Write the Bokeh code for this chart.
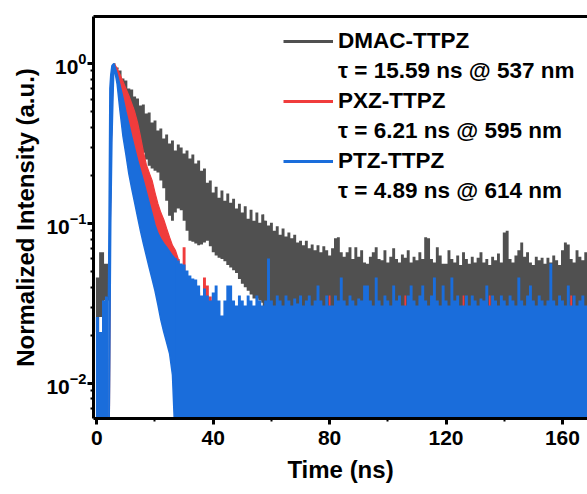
from bokeh.plotting import figure
from bokeh.models import Legend, LegendItem, LinearAxis, FixedTicker, SingleIntervalTicker
from bokeh.embed import file_html
from bokeh.resources import INLINE

GRAY = "#505050"
RED = "#f03c3c"
BLUE = "#1a6ddb"
FLOOR = 0.004  # zero counts: below the visible range

# ---------------- data (time in ns, normalized intensity) ----------------
# DMAC-TTPZ (gray)
gray_base_t = [-0.3, 0.8, 2.5, 4.3]
gray_base_hi = [0.046, 0.066, 0.056, 0.056]
gray_base_lo = [0.021, 0.026, 0.033, 0.033]
gray_rise_t = [4.2, 4.5, 4.8, 5.2, 5.6, 6.0]
gray_rise_hi = [0.004, 0.5, 0.85, 0.96, 0.99, 1.0]
gray_rise_lo = [0.004, 0.004, 0.10, 0.33, 0.65, 0.986]
gray_decay_t = list(range(6, 59))
gray_decay_hi = [1.0, 0.944, 0.904, 0.806, 0.783, 0.698, 0.688, 0.622, 0.604, 0.546,
                 0.554, 0.487, 0.494, 0.428, 0.440, 0.381, 0.392, 0.340, 0.360, 0.316,
                 0.330, 0.286, 0.312, 0.299, 0.274, 0.286, 0.255, 0.270, 0.237, 0.248,
                 0.214, 0.221, 0.180, 0.186, 0.156, 0.170, 0.145, 0.161, 0.139, 0.154,
                 0.135, 0.143, 0.124, 0.133, 0.117, 0.128, 0.107, 0.122, 0.104, 0.117,
                 0.101, 0.114, 0.104]
gray_decay_lo = [0.986, 0.917, 0.818, 0.718, 0.650, 0.587, 0.531, 0.453, 0.381, 0.307,
                 0.277, 0.251, 0.230, 0.221, 0.214, 0.208, 0.186, 0.166, 0.139, 0.112,
                 0.104, 0.117, 0.124, 0.121, 0.104, 0.090, 0.078, 0.077, 0.075, 0.073,
                 0.074, 0.076, 0.078, 0.072, 0.066, 0.063, 0.061, 0.060, 0.058, 0.055,
                 0.053, 0.051, 0.049, 0.045, 0.042, 0.040, 0.038, 0.036, 0.034, 0.034,
                 0.033, 0.032, 0.031]
gray_tail_t = list(range(57, 170))
gray_tail_hi = [0.114, 0.104,
                0.097, 0.101, 0.090, 0.096, 0.085, 0.093, 0.083, 0.088, 0.081, 0.085,
                0.076, 0.078, 0.073, 0.078, 0.070, 0.074, 0.068, 0.073, 0.066, 0.072,
                0.068, 0.063, 0.070, 0.081, 0.082, 0.066, 0.062, 0.066, 0.071, 0.060,
                0.071, 0.062, 0.068, 0.057, 0.056, 0.062, 0.066, 0.071, 0.060, 0.059,
                0.068, 0.057, 0.062, 0.070, 0.060, 0.057, 0.064, 0.061, 0.068, 0.057,
                0.062, 0.059, 0.066, 0.060, 0.082, 0.081, 0.060, 0.057, 0.071, 0.063,
                0.056, 0.056, 0.068, 0.060, 0.057, 0.063, 0.055, 0.066, 0.060, 0.056,
                0.062, 0.057, 0.061, 0.066, 0.057, 0.060, 0.055, 0.062, 0.059, 0.065,
                0.057, 0.088, 0.090, 0.060, 0.057, 0.063, 0.068, 0.076, 0.062, 0.066,
                0.057, 0.055, 0.062, 0.059, 0.061, 0.056, 0.061, 0.057, 0.063, 0.059,
                0.055, 0.068, 0.076, 0.074, 0.060, 0.057, 0.068, 0.062, 0.059, 0.066,
                0.060]

# PXZ-TTPZ (red)
red_main_t = [4.2, 4.5, 4.8, 5.2, 5.6, 6] + list(range(7, 29))
red_main_hi = [0.004, 0.10, 0.50, 0.85, 0.96, 1.0,
               0.93, 0.854, 0.772, 0.698, 0.631, 0.562, 0.501, 0.428, 0.350, 0.282,
               0.234, 0.208, 0.186, 0.156, 0.133, 0.117, 0.106, 0.093, 0.082, 0.073,
               0.068, 0.060]
red_main_lo = [0.004, 0.004, 0.08, 0.30, 0.60, 0.96,
               0.80, 0.66, 0.55, 0.45, 0.37, 0.31, 0.26, 0.22, 0.18, 0.15,
               0.13, 0.11, 0.095, 0.082, 0.07, 0.06, 0.05, 0.045, 0.04, 0.035,
               0.03, 0.025]
red_tail_t = list(range(27, 42))
red_tail_hi = [0.062, 0.060, 0.052, 0.071, 0.047, 0.040, 0.038, 0.035, 0.037, 0.033,
               0.046, 0.041, 0.035, 0.033, 0.031]
red_spike_t = [80, 106, 126, 135, 163]
red_spike_hi = [0.0355, 0.0355, 0.0355, 0.0355, 0.0355]

# PTZ-TTPZ (blue)
blue_base_t = [-0.3, 0.8, 1.8, 2.8, 4.1]
blue_base_hi = [0.026, 0.021, 0.033, 0.035, 0.035]
blue_main_t = [4.0, 4.2, 4.5, 4.8, 5.2, 5.6, 5.9] + list(range(7, 28)) + [27.6]
blue_main_hi = [0.035, 0.10, 0.70, 0.85, 0.97, 0.99, 1.0,
                0.86, 0.73, 0.61, 0.50, 0.42, 0.35, 0.295, 0.25, 0.215, 0.185,
                0.158, 0.135, 0.115, 0.098, 0.087, 0.080, 0.075, 0.071, 0.067, 0.063,
                0.060, 0.060]
blue_main_lo = [0.004, 0.004, 0.02, 0.10, 0.33, 0.65, 0.96,
                0.74, 0.50, 0.35, 0.27, 0.205, 0.165, 0.135, 0.11, 0.09, 0.075,
                0.063, 0.053, 0.045, 0.038, 0.031, 0.025, 0.021, 0.018, 0.0154, 0.0113,
                0.004, 0.004]
blue_tail_t = list(range(27, 170))
blue_tail_hi = [0.0604,
                0.0587, 0.0562, 0.0554, 0.0508, 0.0473, 0.0453, 0.0447, 0.0410, 0.0355, 0.0392,
                0.0355, 0.0330, 0.0370, 0.0410, 0.0330, 0.0266, 0.0330, 0.0410, 0.0410, 0.0330,
                0.0307, 0.0355, 0.0330, 0.0307, 0.0355, 0.0330, 0.0307, 0.0355, 0.0330, 0.0307,
                0.0330, 0.0604, 0.0330, 0.0307, 0.0355, 0.0330, 0.0307, 0.0355, 0.0330, 0.0307,
                0.0340, 0.0316, 0.0355, 0.0307, 0.0330, 0.0355, 0.0307, 0.0330, 0.0410, 0.0330,
                0.0307, 0.0355, 0.0307, 0.0307, 0.0355, 0.0330, 0.0460, 0.0330, 0.0307, 0.0355,
                0.0330, 0.0307, 0.0340, 0.0330, 0.0410, 0.0410, 0.0330, 0.0307, 0.0460, 0.0330,
                0.0307, 0.0355, 0.0330, 0.0307, 0.0410, 0.0330, 0.0355, 0.0307, 0.0307, 0.0355,
                0.0410, 0.0330, 0.0307, 0.0355, 0.0410, 0.0330, 0.0307, 0.0355, 0.0460, 0.0330,
                0.0307, 0.0410, 0.0330, 0.0307, 0.0460, 0.0330, 0.0355, 0.0307, 0.0307, 0.0355,
                0.0307, 0.0355, 0.0330, 0.0307, 0.0340, 0.0330, 0.0410, 0.0307, 0.0355, 0.0330,
                0.0307, 0.0355, 0.0330, 0.0307, 0.0355, 0.0330, 0.0307, 0.0460, 0.0330, 0.0307,
                0.0355, 0.0410, 0.0330, 0.0307, 0.0355, 0.0330, 0.0307, 0.0330, 0.0562, 0.0330,
                0.0307, 0.0355, 0.0330, 0.0307, 0.0410, 0.0307, 0.0355, 0.0307, 0.0330, 0.0355,
                0.0307, 0.0330]

legend_labels = ["DMAC-TTPZ", "τ = 15.59 ns @ 537 nm",
                 "PXZ-TTPZ", "τ = 6.21 ns @ 595 nm",
                 "PTZ-TTPZ", "τ = 4.89 ns @ 614 nm"]

# ---------------- figure ----------------
p = figure(width=587, height=494, x_range=(-1.13, 168.6), y_range=(0.00604, 1.968),
           y_axis_type="log", output_backend="svg", toolbar_location=None,
           min_border_left=93, min_border_right=0, min_border_top=16, min_border_bottom=76,
           background_fill_color="white", border_fill_color="white")
p.outline_line_color = None
p.xgrid.visible = False
p.ygrid.visible = False

FONT = "Liberation Sans"

# gray
p.varea_step(x=gray_base_t, y1=gray_base_lo, y2=gray_base_hi, step_mode="after", fill_color=GRAY)
p.varea(x=gray_rise_t, y1=gray_rise_lo, y2=gray_rise_hi, fill_color=GRAY)
p.varea_step(x=gray_decay_t, y1=gray_decay_lo, y2=gray_decay_hi, step_mode="center", fill_color=GRAY)
p.varea_step(x=gray_tail_t, y1=FLOOR, y2=gray_tail_hi, step_mode="center", fill_color=GRAY)

# red
p.varea(x=red_main_t, y1=red_main_lo, y2=red_main_hi, fill_color=RED)
p.line(x=red_main_t, y=red_main_hi, line_color=RED, line_width=1.2)
p.varea_step(x=red_tail_t, y1=FLOOR, y2=red_tail_hi, step_mode="center", fill_color=RED)
p.vbar(x=red_spike_t, top=red_spike_hi, bottom=FLOOR, width=0.6, fill_color=RED, line_color=None)

# blue
p.varea_step(x=blue_base_t, y1=FLOOR, y2=blue_base_hi, step_mode="after", fill_color=BLUE)
p.varea(x=blue_main_t, y1=blue_main_lo, y2=blue_main_hi, fill_color=BLUE)
p.line(x=blue_main_t, y=blue_main_hi, line_color=BLUE, line_width=1.5)
p.line(x=blue_main_t, y=blue_main_lo, line_color=BLUE, line_width=1.5)
p.varea_step(x=blue_tail_t, y1=FLOOR, y2=blue_tail_hi, step_mode="center", fill_color=BLUE)

# axes
for ax in (p.xaxis[0], p.yaxis[0]):
    ax.axis_line_width = 3
    ax.axis_line_color = "black"
    ax.major_tick_line_width = 3
    ax.major_tick_out = 6
    ax.major_tick_in = 0
    ax.minor_tick_line_width = 2
    ax.minor_tick_out = 3
    ax.minor_tick_in = 0
    ax.major_label_text_font = FONT
    ax.major_label_text_font_style = "bold"
    ax.major_label_text_font_size = "21px"
    ax.major_label_text_color = "black"
    ax.axis_label_text_font = FONT
    ax.axis_label_text_font_style = "bold"
    ax.axis_label_text_font_size = "24px"
    ax.axis_label_text_color = "black"

p.xaxis.ticker = SingleIntervalTicker(interval=40, num_minor_ticks=2)
p.xaxis.axis_label = "Time (ns)"
p.xaxis.major_label_standoff = 6
p.xaxis.axis_label_standoff = 8
p.yaxis.axis_label = "Normalized Intensity (a.u.)"
p.yaxis.major_label_standoff = 1
p.yaxis.axis_label_standoff = 4

top = LinearAxis(ticker=FixedTicker(ticks=[]), axis_line_width=3, axis_line_color="black",
                 major_tick_out=0, minor_tick_out=0, major_label_text_font_size="0px")
p.add_layout(top, "above")

# legend (sample renderers are hidden; only their legend glyphs are drawn)
leg_gray = p.line(x=gray_decay_t, y=gray_decay_hi, line_color=GRAY, line_width=3, visible=False)
leg_red = p.line(x=red_main_t, y=red_main_hi, line_color=RED, line_width=3, visible=False)
leg_blue = p.line(x=blue_main_t, y=blue_main_hi, line_color=BLUE, line_width=3, visible=False)
leg_none = p.line(x=blue_main_t, y=blue_main_hi, line_alpha=0, visible=False)
items = [LegendItem(label=legend_labels[0], renderers=[leg_gray]),
         LegendItem(label=legend_labels[1], renderers=[leg_none]),
         LegendItem(label=legend_labels[2], renderers=[leg_red]),
         LegendItem(label=legend_labels[3], renderers=[leg_none]),
         LegendItem(label=legend_labels[4], renderers=[leg_blue]),
         LegendItem(label=legend_labels[5], renderers=[leg_none])]
legend = Legend(items=items, location=(190, 212), glyph_width=50, glyph_height=30,
                label_height=30, spacing=0, padding=0, margin=0, label_standoff=5,
                border_line_color=None, background_fill_alpha=0,
                label_text_font=FONT, label_text_font_style="bold",
                label_text_font_size="22.5px", label_text_color="black")
p.add_layout(legend)

open("out.html", "w").write(file_html(p, INLINE))
